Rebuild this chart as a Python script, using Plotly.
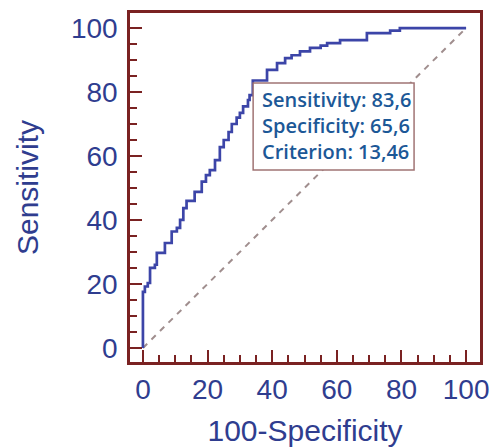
import plotly.graph_objects as go

# ROC curve vertices (100-Specificity, Sensitivity), drawn as a staircase
fpr = [0, 0, 0.6, 1.5, 2.2, 3.7, 4.3, 6.8, 8.9, 10.5, 11.5, 12.5, 13.5, 16, 18.2,
       19.5, 20.7, 22.3, 23.8, 25, 26.5, 27.5, 29, 30, 31, 32.5, 33, 34, 38.4,
       41.5, 44, 46, 48.6, 51.7, 55, 57, 61, 69.3, 76.5, 79.5, 100]
tpr = [0, 17.5, 19.2, 20.3, 25, 26, 29.7, 32.8, 36.4, 37.5, 40, 43.7, 46, 48.8, 52,
       54, 55.6, 58.7, 62.8, 65, 67.5, 70, 72, 73.5, 75.5, 77.5, 79, 83.6, 86.9,
       89, 90.6, 91.5, 92.7, 93.8, 94.5, 95.3, 96.2, 98.4, 99.2, 100, 100]

diag = [0, 100]
tick_vals = [0, 20, 40, 60, 80, 100]
tick_text = ["0", "20", "40", "60", "80", "100"]
info_lines = ["Sensitivity: 83,6", "Specificity: 65,6", "Criterion: 13,46"]

frame_col = "#7a2222"
label_col = "#2f3d8f"
text_col = "#1c5897"

fig = go.Figure()
fig.add_trace(go.Scatter(x=diag, y=diag, mode="lines",
                         line=dict(color="#a08e8e", width=2, dash="6px,6px"),
                         hoverinfo="skip", showlegend=False))
fig.add_trace(go.Scatter(x=fpr, y=tpr, mode="lines", line_shape="hv",
                         line=dict(color="#3c45a8", width=2.7),
                         showlegend=False))

# info box
fig.add_shape(type="rect", xref="x", yref="y", x0=34.1, x1=83.9, y0=55.6, y1=82.8,
              line=dict(color="#a07474", width=1.5), fillcolor="white", layer="above")
fig.add_annotation(x=36.5, y=69.4, xref="x", yref="y", text="<br>".join(info_lines),
                   showarrow=False, xanchor="left", yanchor="middle", align="left",
                   borderpad=0,
                   font=dict(family="Open Sans", size=20, color=text_col, weight=600))

axis_common = dict(
    showline=True, mirror=True, linecolor=frame_col, linewidth=2.5,
    ticks="inside", ticklen=12, tickwidth=2, tickcolor=frame_col,
    showgrid=False, zeroline=False,
    tickvals=tick_vals, ticktext=tick_text,
    tickfont=dict(family="Liberation Sans", size=28, color=label_col),
    minor=dict(ticks="inside", dtick=5, tick0=0, ticklen=7, tickwidth=2,
               tickcolor=frame_col, showgrid=False),
)

fig.update_layout(
    width=494, height=447,
    margin=dict(l=130, r=14, t=13, b=85, autoexpand=False),
    paper_bgcolor="white", plot_bgcolor="white",
    xaxis=dict(range=[-4.0, 104.3], ticklabelstandoff=1,
               title=dict(text="100-Specificity", standoff=16,
                          font=dict(family="Liberation Sans", size=30, color=label_col)),
               automargin=False, **axis_common),
    yaxis=dict(range=[-4.4, 104.7], ticklabelstandoff=4,
               title=dict(text="Sensitivity", standoff=24,
                          font=dict(family="Liberation Sans", size=30, color=label_col)),
               automargin=False, **axis_common),
)

fig.write_html("out.html", config={"displayModeBar": False},
               post_script="document.body.style.margin='0';document.body.style.overflow='hidden';")
